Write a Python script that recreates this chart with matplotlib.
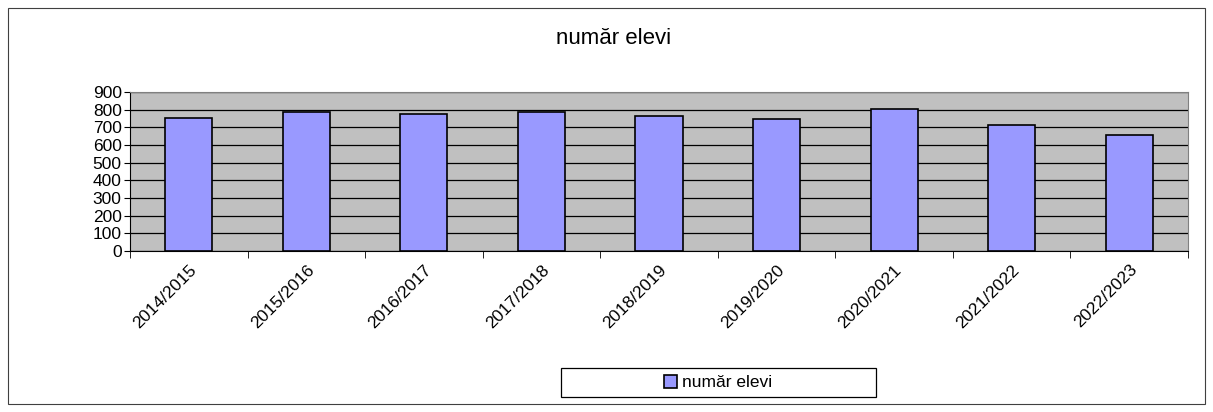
import matplotlib
matplotlib.use('Agg')
import matplotlib.pyplot as plt
from matplotlib.patches import Rectangle
import numpy as np

# date grafic
ani = ['2014/2015', '2015/2016', '2016/2017', '2017/2018', '2018/2019',
       '2019/2020', '2020/2021', '2021/2022', '2022/2023']
elevi = [754, 788, 778, 784, 765, 746, 803, 716, 659]
eticheta = 'număr elevi'

plt.rcParams['font.family'] = ['Liberation Sans', 'DejaVu Sans']

W, H = 1213, 412
fig = plt.figure(figsize=(W / 100, H / 100), dpi=100)

# chenarul exterior
fig.patches.append(Rectangle((8 / W, 8 / H), 1197 / W, 396 / H,
                             transform=fig.transFigure, fill=False,
                             edgecolor='#404040', linewidth=0.8))

ax = fig.add_axes([130 / W, 1 - 251 / H, 1058 / W, 159 / H])
ax.set_facecolor('#C0C0C0')
x = np.arange(len(ani))
bare = ax.bar(x, elevi, width=0.4, color='#9999FF', edgecolor='black',
              linewidth=1.2, label=eticheta, zorder=3)

ax.set_xlim(-0.5, len(ani) - 0.5)
ax.set_ylim(0, 900)
ax.set_yticks(range(0, 901, 100))
ax.yaxis.grid(True, color='black', linewidth=0.9, zorder=1)
ax.set_axisbelow(True)

ax.set_xticks(x)
ax.set_xticklabels(ani, rotation=45, ha='right', rotation_mode='anchor')
ax.set_xticks(np.arange(-0.5, len(ani), 1), minor=True)
ax.tick_params(axis='x', which='major', length=0, pad=8, labelsize=12.5)
ax.tick_params(axis='x', which='minor', length=5, direction='out',
               color='black')
ax.tick_params(axis='y', length=4, direction='out', labelsize=12.5, pad=2)

for side in ('top', 'right'):
    ax.spines[side].set_color('#808080')
for side in ('left', 'bottom'):
    ax.spines[side].set_color('black')

fig.text(614 / W, 1 - 39 / H, eticheta, ha='center', va='center',
         fontsize=16)

# caseta legendei
fig.patches.append(Rectangle((561 / W, 1 - 397 / H), 315 / W, 29 / H,
                             transform=fig.transFigure, facecolor='white',
                             edgecolor='black', linewidth=0.9, zorder=2))
leg = fig.legend(handles=[bare], labels=[eticheta], loc='center',
                 bbox_to_anchor=(718 / W, 1 - 382.5 / H),
                 bbox_transform=fig.transFigure, frameon=False,
                 fontsize=12.5, handlelength=0.75, handleheight=0.75,
                 handletextpad=0.25, borderpad=0)
leg.set_zorder(5)

fig.savefig('out.png', dpi=100)
